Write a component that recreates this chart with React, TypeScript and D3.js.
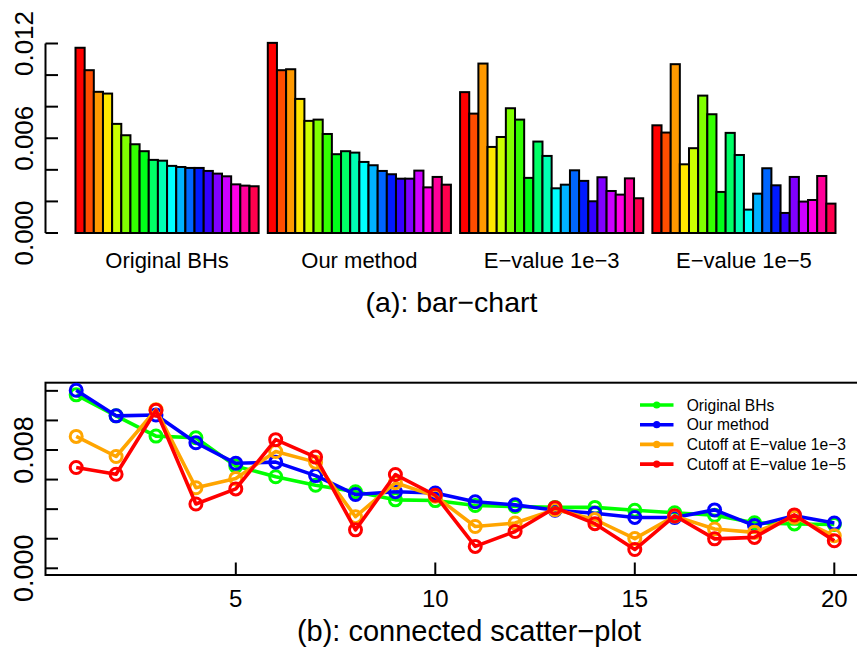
import React, { useEffect, useRef } from 'react';
import * as d3 from 'd3';

// values (same numbers feed both panels)
const groupLabels = ['Original BHs', 'Our method', 'E\u2212value 1e\u22123', 'E\u2212value 1e\u22125'];
const seriesNames = ['Original BHs', 'Our method', 'Cutoff at E\u2212value 1e\u22123', 'Cutoff at E\u2212value 1e\u22125'];
const seriesColors = ['#00FF00', '#0000FF', '#FFA500', '#FF0000'];

const originalBHs = [0.01173, 0.01031, 0.00894, 0.00883, 0.00691, 0.00619, 0.00562, 0.00518, 0.00463, 0.00458,
  0.00425, 0.00418, 0.00412, 0.00412, 0.00393, 0.00376, 0.00359, 0.00308, 0.00300, 0.00296];
const ourMethod = [0.01204, 0.01031, 0.01037, 0.00849, 0.00710, 0.00718, 0.00627, 0.00499, 0.00518, 0.00509,
  0.00450, 0.00429, 0.00393, 0.00372, 0.00344, 0.00344, 0.00395, 0.00289, 0.00355, 0.00306];
const evalue3 = [0.00892, 0.00756, 0.01073, 0.00545, 0.00608, 0.00790, 0.00718, 0.00349, 0.00579, 0.00488,
  0.00283, 0.00306, 0.00397, 0.00330, 0.00201, 0.00353, 0.00266, 0.00243, 0.00346, 0.00220];
const evalue5 = [0.00682, 0.00636, 0.01069, 0.00435, 0.00537, 0.00870, 0.00752, 0.00260, 0.00634, 0.00494,
  0.00148, 0.00249, 0.00410, 0.00302, 0.00127, 0.00355, 0.00199, 0.00209, 0.00361, 0.00186];

const barTicks = [0, 0.002, 0.004, 0.006, 0.008, 0.010, 0.012];
const barTickLabels = [0, 0.006, 0.012];
const lineYTicks = [0, 0.002, 0.004, 0.006, 0.008, 0.010, 0.012];
const lineYTickLabels = [0, 0.008];
const lineXTicks = [5, 10, 15, 20];

const FONT = '"Liberation Sans", Arial, Helvetica, sans-serif';

export default function App() {
  const svgRef = useRef<SVGSVGElement>(null);

  useEffect(() => {
    if (!svgRef.current) return;
    const width = 857;
    const height = 654;
    const allSeries = [originalBHs, ourMethod, evalue3, evalue5];
    const idx = d3.range(originalBHs.length);

    const svg = d3.select(svgRef.current);
    svg.selectAll('*').remove();
    svg.attr('width', width).attr('height', height)
      .style('font-family', FONT);

    // ---------- (a) bar chart ----------
    const top = svg.append('g');
    const yBar = d3.scaleLinear().domain([0, 0.012]).range([233, 43.5]);
    const xGroup = d3.scaleBand<number>().domain(d3.range(4)).range([75.5, 835.5])
      .paddingInner(1 / 21).paddingOuter(0);
    const xBar = d3.scaleBand<number>().domain(idx).range([0, xGroup.bandwidth()]).padding(0);
    const rainbow = (i: number) => d3.hsl((i / 20) * 360, 1, 0.5).toString();

    allSeries.forEach((vals, g) => {
      const grp = top.append('g').attr('transform', `translate(${xGroup(g)},0)`);
      grp.selectAll('rect')
        .data(vals)
        .join('rect')
        .attr('x', (_, i) => xBar(i)!)
        .attr('y', d => yBar(d))
        .attr('width', xBar.bandwidth())
        .attr('height', d => yBar(0) - yBar(d))
        .attr('fill', (_, i) => rainbow(i))
        .attr('stroke', '#000')
        .attr('stroke-width', 2);
      top.append('text')
        .attr('x', xGroup(g)! + xGroup.bandwidth() / 2)
        .attr('y', 268)
        .attr('text-anchor', 'middle')
        .attr('font-size', 22)
        .text(groupLabels[g]);
    });

    // y axis (ticks point inward, like the original)
    const axisX = 45.5;
    top.append('line')
      .attr('x1', axisX).attr('x2', axisX)
      .attr('y1', yBar(0)).attr('y2', yBar(0.012))
      .attr('stroke', '#000').attr('stroke-width', 2);
    top.selectAll('line.tick')
      .data(barTicks)
      .join('line')
      .attr('class', 'tick')
      .attr('x1', axisX).attr('x2', 58)
      .attr('y1', d => yBar(d)).attr('y2', d => yBar(d))
      .attr('stroke', '#000').attr('stroke-width', 2);
    top.selectAll('text.ylab')
      .data(barTickLabels)
      .join('text')
      .attr('class', 'ylab')
      .attr('transform', d => `translate(33,${yBar(d)}) rotate(-90)`)
      .attr('text-anchor', 'middle')
      .attr('font-size', 26)
      .text(d => d.toFixed(3));

    top.append('text')
      .attr('x', 451.5).attr('y', 311.7)
      .attr('text-anchor', 'middle')
      .attr('font-size', 28.5)
      .text('(a): bar\u2212chart');

    // ---------- (b) connected scatter ----------
    const bot = svg.append('g');
    const x = d3.scaleLinear().domain([1, 20]).range([76.2, 834.3]);
    const y = d3.scaleLinear().domain([0, 0.008]).range([568.3, 450]);
    const boxL = 45.5, boxR = 865, boxT = 382.7, boxB = 575;

    bot.append('rect')
      .attr('x', boxL).attr('y', boxT)
      .attr('width', boxR - boxL).attr('height', boxB - boxT)
      .attr('fill', 'none').attr('stroke', '#000').attr('stroke-width', 2);

    bot.selectAll('line.yt')
      .data(lineYTicks)
      .join('line')
      .attr('class', 'yt')
      .attr('x1', boxL).attr('x2', 58)
      .attr('y1', d => y(d)).attr('y2', d => y(d))
      .attr('stroke', '#000').attr('stroke-width', 2);
    bot.selectAll('text.yl')
      .data(lineYTickLabels)
      .join('text')
      .attr('class', 'yl')
      .attr('transform', d => `translate(33,${y(d)}) rotate(-90)`)
      .attr('text-anchor', 'middle')
      .attr('font-size', 27)
      .text(d => d.toFixed(3));

    bot.selectAll('line.xt')
      .data(lineXTicks)
      .join('line')
      .attr('class', 'xt')
      .attr('x1', d => x(d)).attr('x2', d => x(d))
      .attr('y1', boxB).attr('y2', 562.5)
      .attr('stroke', '#000').attr('stroke-width', 2);
    bot.selectAll('text.xl')
      .data(lineXTicks)
      .join('text')
      .attr('class', 'xl')
      .attr('x', d => x(d)).attr('y', 606.7)
      .attr('text-anchor', 'middle')
      .attr('font-size', 24)
      .text(d => String(d));

    const line = d3.line<number>()
      .x((_, i) => x(i + 1))
      .y(d => y(d));

    allSeries.forEach((vals, s) => {
      bot.append('path')
        .attr('d', line(vals)!)
        .attr('fill', 'none')
        .attr('stroke', seriesColors[s])
        .attr('stroke-width', 3.6)
        .attr('stroke-linejoin', 'round');
      bot.append('g').selectAll('circle')
        .data(vals)
        .join('circle')
        .attr('cx', (_, i) => x(i + 1))
        .attr('cy', d => y(d))
        .attr('r', 6)
        .attr('fill', 'none')
        .attr('stroke', seriesColors[s])
        .attr('stroke-width', 3);
    });

    // legend
    const legend = bot.append('g');
    seriesNames.forEach((name, s) => {
      const ly = 405 + s * 19.7;
      legend.append('line')
        .attr('x1', 640).attr('x2', 673.5)
        .attr('y1', ly).attr('y2', ly)
        .attr('stroke', seriesColors[s]).attr('stroke-width', 3.6);
      legend.append('circle')
        .attr('cx', 656.7).attr('cy', ly).attr('r', 3.6)
        .attr('fill', seriesColors[s]);
      legend.append('text')
        .attr('x', 686.7).attr('y', ly + 5.5)
        .attr('font-size', 15.6)
        .text(name);
    });

    bot.append('text')
      .attr('x', 469).attr('y', 640.7)
      .attr('text-anchor', 'middle')
      .attr('font-size', 29)
      .text('(b): connected scatter\u2212plot');
  }, []);

  return (
    <div style={{ position: 'absolute', left: 0, top: 0, overflow: 'hidden', width: 857, height: 654 }}>
      <svg ref={svgRef}></svg>
    </div>
  );
}
